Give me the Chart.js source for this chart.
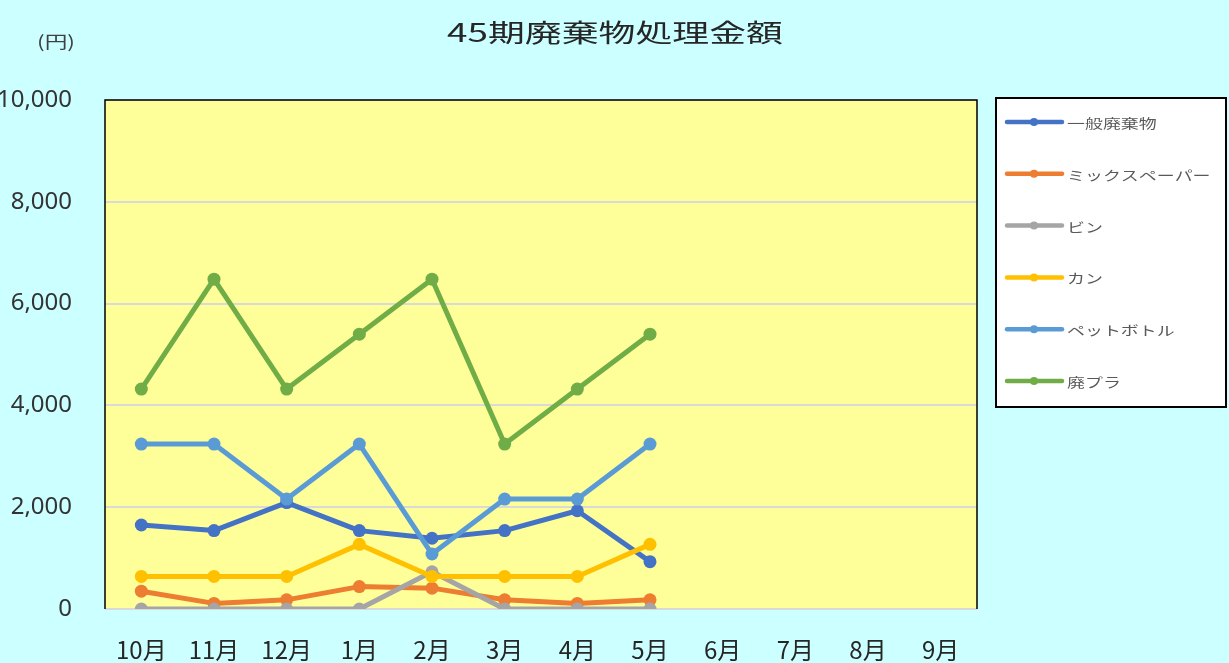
<!DOCTYPE html>
<html>
<head>
<meta charset="utf-8">
<script src="https://cdn.jsdelivr.net/npm/chart.js@4.4.1/dist/chart.umd.min.js"></script>
<style>
  html, body { margin: 0; padding: 0; background: #CCFFFF; overflow: hidden; }
  #wrap { width: 1229px; height: 663px; }
</style>
</head>
<body>
<div id="wrap"><canvas id="c" width="1229" height="663"></canvas></div>
<script>
const titleText = '45期廃棄物処理金額';
const unitText = '(円)';
const months = ['10月','11月','12月','1月','2月','3月','4月','5月','6月','7月','8月','9月'];
const seriesNames = ['一般廃棄物','ミックスペーパー','ビン','カン','ペットボトル','廃プラ'];
const seriesColors = ['#4472C4','#ED7D31','#A5A5A5','#FFC000','#5B9BD5','#70AD47'];
const ippan   = [1650,1540,2090,1540,1390,1540,1930,930,null,null,null,null];
const mixPaper= [350,110,180,440,410,180,110,180,null,null,null,null];
const bin     = [0,0,0,0,730,0,0,0,null,null,null,null];
const can     = [640,640,640,1270,640,640,640,1270,null,null,null,null];
const petBottle=[3240,3240,2160,3240,1080,2160,2160,3240,null,null,null,null];
const haipura = [4320,6480,4320,5400,6480,3240,4320,5400,null,null,null,null];
const seriesValues = [ippan, mixPaper, bin, can, petBottle, haipura];
const yTicks = [0,2000,4000,6000,8000,10000];

const JP = '"Noto Sans CJK JP", "Noto Sans", sans-serif';

const decor = {
  id: 'decor',
  beforeDraw(chart) {
    const ctx = chart.ctx, a = chart.chartArea;
    ctx.save();
    ctx.fillStyle = '#CCFFFF';
    ctx.fillRect(0, 0, chart.width, chart.height);
    ctx.fillStyle = '#FFFF99';
    ctx.fillRect(a.left, a.top, a.right - a.left, a.bottom - a.top);
    ctx.restore();
  },
  beforeDatasetsDraw(chart) {
    const ctx = chart.ctx, a = chart.chartArea;
    ctx.save();
    ctx.strokeStyle = '#000000';
    ctx.lineWidth = 1.5;
    ctx.beginPath();
    ctx.moveTo(a.left, a.bottom);
    ctx.lineTo(a.left, a.top);
    ctx.lineTo(a.right, a.top);
    ctx.lineTo(a.right, a.bottom);
    ctx.stroke();
    ctx.restore();
  },
  afterDraw(chart) {
    const ctx = chart.ctx;
    ctx.save();
    // title
    ctx.font = '25px ' + JP;
    ctx.fillStyle = '#262626';
    ctx.textBaseline = 'middle';
    ctx.textAlign = 'left';
    let w = ctx.measureText(titleText).width;
    let sx = 336 / w;
    ctx.save();
    ctx.translate(447, 32);
    ctx.scale(sx, 1);
    ctx.fillText(titleText, 0, 0);
    ctx.restore();
    // unit
    ctx.font = '17px ' + JP;
    ctx.fillStyle = '#404040';
    w = ctx.measureText(unitText).width;
    sx = 38 / w;
    ctx.save();
    ctx.translate(37, 42);
    ctx.scale(sx, 1);
    ctx.fillText(unitText, 0, 0);
    ctx.restore();
    // legend
    ctx.fillStyle = '#FFFFFF';
    ctx.fillRect(996, 98, 230, 309);
    ctx.strokeStyle = '#000000';
    ctx.lineWidth = 2;
    ctx.strokeRect(996, 98, 230, 309);
    seriesNames.forEach((name, i) => {
      const y = 122 + i * 51.8;
      ctx.strokeStyle = seriesColors[i];
      ctx.lineWidth = 4.5;
      ctx.lineCap = 'round';
      ctx.beginPath();
      ctx.moveTo(1007, y);
      ctx.lineTo(1062, y);
      ctx.stroke();
      ctx.fillStyle = seriesColors[i];
      ctx.beginPath();
      ctx.arc(1034, y, 4, 0, Math.PI * 2);
      ctx.fill();
      ctx.fillStyle = '#595959';
      ctx.font = '13px ' + JP;
      ctx.textBaseline = 'middle';
      ctx.save();
      ctx.translate(1067, y + 1);
      ctx.scale(1.38, 1);
      ctx.fillText(name, 0, 0);
      ctx.restore();
    });
    ctx.restore();
  }
};

const datasets = seriesNames.map((name, i) => ({
  label: name,
  data: seriesValues[i],
  borderColor: seriesColors[i],
  backgroundColor: seriesColors[i],
  pointBackgroundColor: seriesColors[i],
  pointBorderWidth: 0,
  pointRadius: 6.5,
  borderWidth: 5,
  borderJoinStyle: 'round',
  tension: 0,
  spanGaps: false,
  order: seriesNames.length - i
}));

new Chart(document.getElementById('c'), {
  type: 'line',
  data: { labels: months, datasets },
  options: {
    responsive: false,
    animation: false,
    devicePixelRatio: 1,
    layout: { padding: { top: 100, right: 252, left: 0, bottom: 0 } },
    plugins: {
      legend: { display: false },
      title: { display: false },
      tooltip: { enabled: false }
    },
    scales: {
      x: {
        type: 'category',
        offset: true,
        grid: { display: false, drawTicks: false },
        border: { display: false },
        ticks: { padding: 26, color: '#262626', font: { family: JP, size: 24 }, maxRotation: 0, autoSkip: false },
        afterFit(scale) { scale.height = 54; }
      },
      y: {
        min: 0, max: 10000,
        afterBuildTicks(scale) { scale.ticks = yTicks.map(v => ({ value: v })); },
        grid: { color: '#D9D9D9', lineWidth: 2, drawTicks: false },
        border: { display: false },
        ticks: {
          padding: 33,
          color: '#333333',
          font: { family: '"Noto Sans", sans-serif', size: 24 },
          callback: v => v.toLocaleString('en-US')
        },
        afterFit(scale) { scale.width = 105; }
      }
    }
  },
  plugins: [decor]
});
</script>
</body>
</html>
